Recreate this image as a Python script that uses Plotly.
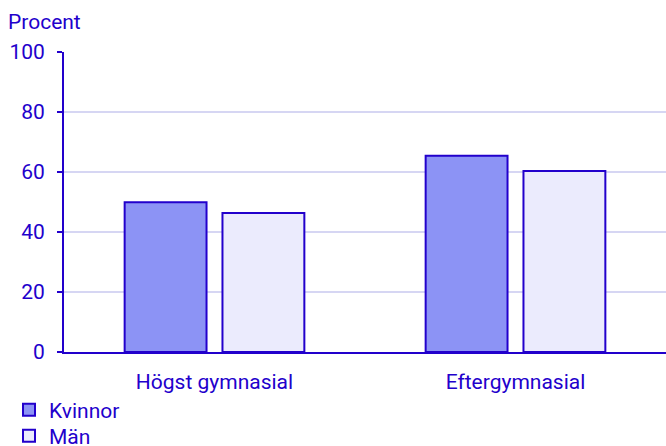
import plotly.graph_objects as go

categories = ["Högst gymnasial", "Eftergymnasial"]
kvinnor = [49.9, 65.4]
man = [46.3, 60.3]
y_ticks = [0, 20, 40, 60, 80, 100]

TXT = "#2200cc"
FONT = "Roboto"
FS = 21

fig = go.Figure()
fig.add_trace(go.Bar(name="Kvinnor", x=categories, y=kvinnor, legend="legend",
                     marker=dict(color="#8c93f5", line=dict(color=TXT, width=2))))
fig.add_trace(go.Bar(name="Män", x=categories, y=man, legend="legend2",
                     marker=dict(color="#ebebfd", line=dict(color=TXT, width=2))))

W = 666
H = 446
leg_common = dict(orientation="v", xref="container", yref="container",
                  xanchor="left", yanchor="middle",
                  font=dict(size=FS, color=TXT), itemwidth=30,
                  bgcolor="rgba(0,0,0,0)")

fig.update_layout(
    width=W, height=H,
    margin=dict(l=64, r=0, t=52, b=94, autoexpand=False),
    paper_bgcolor="white", plot_bgcolor="white",
    font=dict(family=FONT, size=FS, color=TXT),
    barmode="group", bargap=0.35, bargroupgap=0.163,
    showlegend=True,
    legend=dict(x=9 / W, y=1 - 410 / H, **leg_common),
    legend2=dict(x=9 / W, y=1 - 436 / H, **leg_common),
    annotations=[dict(text="Procent", xref="paper", yref="paper",
                      x=-58 / 602, y=(352 - 22) / 300,
                      xanchor="left", yanchor="middle", showarrow=False,
                      font=dict(size=FS, color=TXT))],
)
fig.update_yaxes(range=[0, 100], tickvals=y_ticks, showgrid=True,
                 gridcolor="#d6d6f3", gridwidth=2, zeroline=False,
                 showline=True, linecolor=TXT, linewidth=2,
                 ticks="outside", ticklen=5, tickwidth=2, tickcolor=TXT,
                 tickfont=dict(size=FS, color=TXT), ticklabelstandoff=8)
fig.update_xaxes(showline=True, linecolor=TXT, linewidth=2, ticks="",
                 tickfont=dict(size=FS, color=TXT), ticklabelstandoff=10)

fig.write_html("out.html", config={"displayModeBar": False},
               post_script="document.body.style.margin='0';document.body.style.overflow='hidden';")
